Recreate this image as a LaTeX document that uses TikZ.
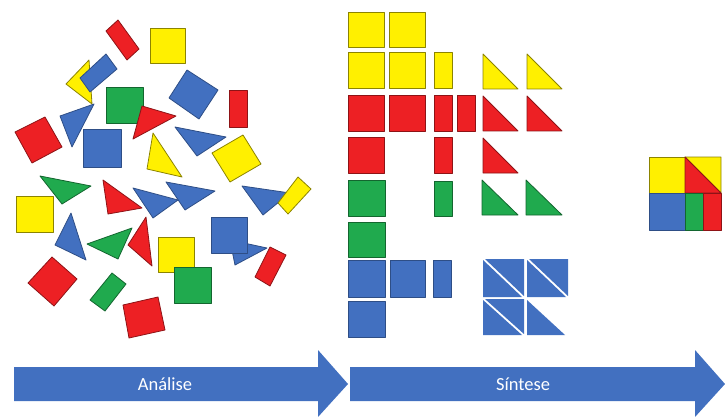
\documentclass[tikz,border=0pt]{standalone}
\usepackage{fontspec}
\setmainfont{Carlito}
\definecolor{cy}{RGB}{255,240,0}
\definecolor{cr}{RGB}{237,32,36}
\definecolor{cg}{RGB}{32,170,78}
\definecolor{cb}{RGB}{66,112,192}
\tikzset{
  ypiece/.style={fill=cy,draw=cy!55!black,line width=0.8pt,line join=round},
  rpiece/.style={fill=cr,draw=cr!60!black,line width=0.8pt,line join=round},
  gpiece/.style={fill=cg,draw=cg!60!black,line width=0.8pt,line join=round},
  bpiece/.style={fill=cb,draw=cb!70!black,line width=0.8pt,line join=round},
  bflat/.style={fill=cb,draw=none},
  bigarrow/.style={fill=cb,draw=none},
  arrowlabel/.style={text=white,font=\fontsize{18.5}{20}\selectfont,inner sep=0pt}
}
\begin{document}
\begin{tikzpicture}[x=1pt,y=-1pt]
\useasboundingbox[fill=white] (0,0) rectangle (725,417);
% ---------- Analise: scattered pieces ----------
\path[rpiece] (106,31)--(118,20)--(139,49)--(127,60)--cycle;
\path[ypiece] (150,28) rectangle (185,63);
\path[ypiece] (66,84)--(89,60)--(92,104)--cycle;
\path[bpiece] (80,78)--(106,54)--(117,69)--(90,92)--cycle;
\path[gpiece] (106,87) rectangle (143,123);
\path[bpiece] (187,70)--(218,90)--(199,119)--(169,98)--cycle;
\path[rpiece] (229,90) rectangle (247,127);
\path[rpiece] (15,132)--(45,117)--(62,147)--(32,163)--cycle;
\path[bpiece] (60,116)--(94,104)--(72,147)--cycle;
\path[bpiece] (83,129) rectangle (121,167);
\path[rpiece] (142,106)--(176,116)--(133,139)--cycle;
\path[bpiece] (175,127)--(226,137)--(197,156)--cycle;
\path[ypiece] (153,133)--(147,169)--(182,177)--cycle;
\path[ypiece] (212,153)--(243,135)--(261,164)--(230,182)--cycle;
\path[gpiece] (40,176)--(91,186)--(62,204)--cycle;
\path[ypiece] (16,196) rectangle (53,232);
\path[rpiece] (103,180)--(108,214)--(142,208)--cycle;
\path[bpiece] (133,188)--(178,200)--(153,218)--cycle;
\path[bpiece] (166,182)--(215,191)--(185,210)--cycle;
\path[bpiece] (242,186)--(290,193)--(263,215)--cycle;
\path[ypiece] (278,203)--(298,177)--(311,189)--(288,214)--cycle;
\path[bpiece] (71,213)--(55,245)--(86,260)--cycle;
\path[gpiece] (87,244)--(132,228)--(118,259)--cycle;
\path[rpiece] (146,217)--(152,266)--(128,245)--cycle;
\path[bpiece] (230,240)--(267,248)--(235,265)--cycle;
\path[bpiece] (211,217) rectangle (247,253);
\path[rpiece] (255,277)--(270,247)--(286,255)--(270,286)--cycle;
\path[ypiece] (158,237) rectangle (194,272);
\path[gpiece] (174,267) rectangle (211,303);
\path[rpiece] (28,283)--(52,257)--(77,279)--(54,306)--cycle;
\path[gpiece] (90,300)--(112,273)--(126,284)--(105,311)--cycle;
\path[rpiece] (123,305)--(158,297)--(165,330)--(129,338)--cycle;
% ---------- Sintese: sorted pieces ----------
% row 1
\path[ypiece] (348,12) rectangle (384,47);
\path[ypiece] (389,12) rectangle (425,47);
% row 2
\path[ypiece] (348,52) rectangle (384,88);
\path[ypiece] (389,52) rectangle (425,88);
\path[ypiece] (434,52) rectangle (452,88);
\path[ypiece] (483,54)--(483,89)--(518,89)--cycle;
\path[ypiece] (527,54)--(527,89)--(562,89)--cycle;
% row 3
\path[rpiece] (348,95) rectangle (384,131);
\path[rpiece] (389,95) rectangle (425,131);
\path[rpiece] (434,95) rectangle (452,131);
\path[rpiece] (457,95) rectangle (475,131);
\path[rpiece] (483,96)--(483,131)--(518,131)--cycle;
\path[rpiece] (527,96)--(527,131)--(562,131)--cycle;
% row 4
\path[rpiece] (348,137) rectangle (384,173);
\path[rpiece] (434,137) rectangle (452,173);
\path[rpiece] (483,138)--(483,173)--(518,173)--cycle;
% row 5
\path[gpiece] (348,180) rectangle (385,216);
\path[gpiece] (434,181) rectangle (452,216);
\path[gpiece] (482,180)--(482,215)--(518,215)--cycle;
\path[gpiece] (526,180)--(526,215)--(562,215)--cycle;
% row 6
\path[gpiece] (348,222) rectangle (385,257);
% row 7
\path[bpiece] (348,260) rectangle (385,297);
\path[bpiece] (390,260) rectangle (425,297);
\path[bpiece] (433,260) rectangle (451,297);
% blue triangles
\path[bflat] (485,259)--(524,259)--(524,296)--cycle;
\path[bflat] (483,260)--(483,297)--(522,297)--cycle;
\path[bflat] (529,259)--(568,259)--(568,296)--cycle;
\path[bflat] (527,260)--(527,297)--(566,297)--cycle;
\path[bflat] (485,299)--(524,299)--(524,334)--cycle;
\path[bflat] (483,300)--(483,335)--(522,335)--cycle;
\path[bflat] (527,300)--(527,335)--(565,335)--cycle;
% row 8
\path[bpiece] (348,301) rectangle (385,337);
% ---------- result ----------
\path[ypiece] (649,157) rectangle (685,193);
\path[bpiece] (649,193) rectangle (685,230);
\path[ypiece] (685,157)--(721,157)--(721,193)--cycle;
\path[rpiece] (685,157)--(685,193)--(721,193)--cycle;
\path[gpiece] (685,193) rectangle (703,230);
\path[rpiece] (703,193) rectangle (721,230);
% ---------- arrows ----------
\path[bigarrow] (14,367)--(318,367)--(318,350)--(348,384)--(318,417)--(318,401)--(14,401)--cycle;
\path[bigarrow] (350,367)--(695,367)--(695,350)--(725,384)--(695,417)--(695,401)--(350,401)--cycle;
\node[arrowlabel] (analise) at (165,384) {Análise};
\node[arrowlabel] (sintese) at (523,384) {Síntese};
\end{tikzpicture}
\end{document}
